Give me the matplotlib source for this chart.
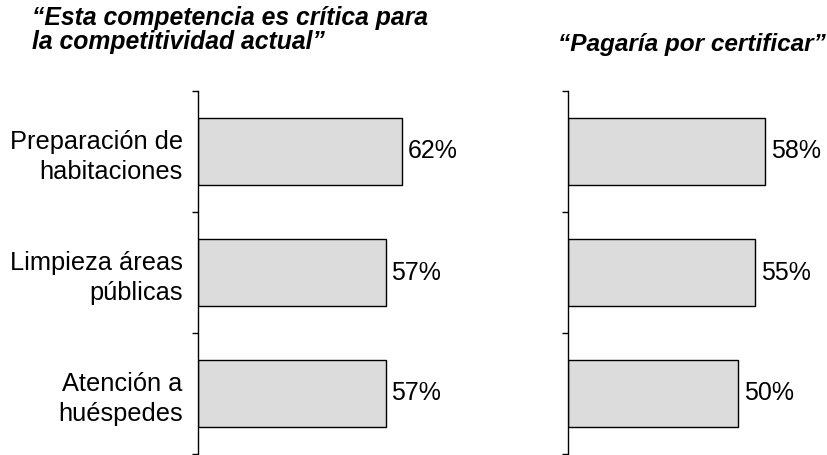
import matplotlib.pyplot as plt
import numpy as np

plt.rcParams['font.family'] = ['Liberation Sans', 'DejaVu Sans']

# datos
categorias = ['Preparación de\nhabitaciones', 'Limpieza áreas\npúblicas', 'Atención a\nhuéspedes']
critica = [62, 57, 57]
certificar = [58, 55, 50]
titulo_izq = '\u201cEsta competencia es crítica para\nla competitividad actual\u201d'
titulo_der = '\u201cPagaría por certificar\u201d'

W, H = 827, 455
fig = plt.figure(figsize=(W / 100, H / 100), dpi=100)

# ejes en pixeles (x0, ancho, xmax)
y_top, y_bot = 91, 454
paneles = [(198, 300, 300 / 3.29, critica), (568, 252, 252 / 3.40, certificar)]

pos = np.arange(len(categorias))
for i, (x0, ancho, xmax, valores) in enumerate(paneles):
    ax = fig.add_axes([x0 / W, 1 - y_bot / H, ancho / W, (y_bot - y_top) / H])
    ax.barh(pos, valores, height=0.56, color='#dcdcdc', edgecolor='black', linewidth=1)
    ax.set_xlim(0, xmax)
    ax.set_ylim(len(categorias) - 0.5, -0.5)
    for y, v in zip(pos, valores):
        ax.text(v + 1.7, y, f'{v}%', va='center', ha='left', fontsize=18)
    for s in ['top', 'right', 'bottom']:
        ax.spines[s].set_visible(False)
    ax.spines['left'].set_linewidth(1)
    ax.set_xticks([])
    ax.set_yticks(pos)
    ax.set_yticks(np.arange(-0.5, len(categorias)), minor=True)
    ax.tick_params(axis='y', which='major', length=0, pad=11)
    ax.tick_params(axis='y', which='minor', length=4.5, width=1, direction='out')
    if i == 0:
        ax.set_yticklabels(categorias, fontsize=18.3, multialignment='right',
                           linespacing=1.3)
    else:
        ax.set_yticklabels([])

fig.text(32 / W, 1 - 6 / H, titulo_izq, ha='left', va='top', fontsize=17.8,
         fontweight='bold', fontstyle='italic', linespacing=1.0)
fig.text(826 / W, 1 - 45 / H, titulo_der, ha='right', va='center', fontsize=17.6,
         fontweight='bold', fontstyle='italic')

fig.savefig('out.png', dpi=100)
